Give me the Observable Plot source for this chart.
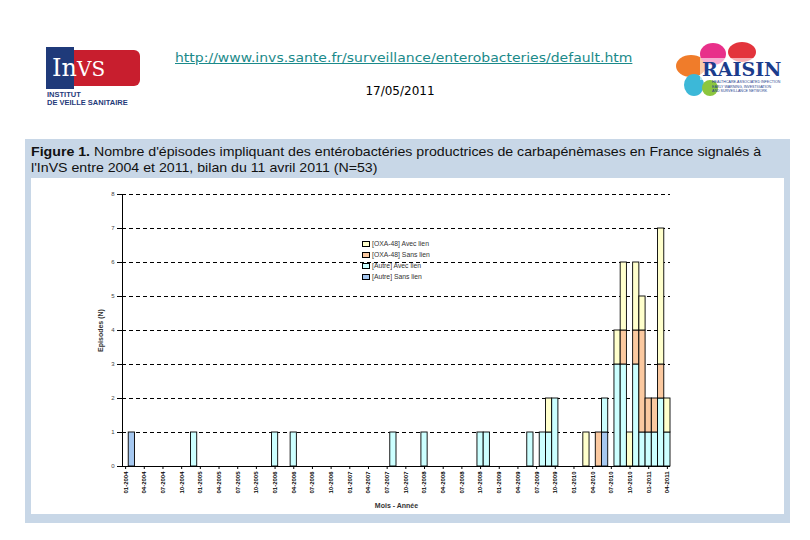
<!DOCTYPE html>
<html>
<head>
<meta charset="utf-8">
<script src="https://cdn.jsdelivr.net/npm/d3@7"></script>
<script src="https://cdn.jsdelivr.net/npm/@observablehq/plot@0.6"></script>
<style>
  html, body { margin:0; padding:0; background:#fff; }
  #page { position:relative; width:810px; height:540px; overflow:hidden; font-family:"Liberation Sans", Arial, sans-serif; }
  .abs { position:absolute; }
  #url { left:175px; top:51px; color:#1b8a8a; text-decoration:underline; font-family:"DejaVu Sans", sans-serif; font-size:12px; white-space:nowrap; transform-origin:left top; }
  #date { left:350px; top:84px; width:100px; text-align:center; font-family:"DejaVu Sans", sans-serif; font-size:12px; color:#000; }
  #box { left:25px; top:139px; width:765px; height:384px; background:#c8d7e7; }
  #inner { left:31px; top:178px; width:753px; height:336px; background:#fff; }
  #title { left:31px; top:144px; font-size:13px; line-height:15.5px; color:#111; white-space:nowrap; transform-origin:left top; }
  #chart { left:31px; top:178px; width:753px; }
  .lg { position:absolute; left:362px; font-size:6.8px; color:#333; white-space:nowrap; line-height:7px; }
  .lg span.sw { display:inline-block; width:6px; height:4.5px; border:0.8px solid #000; margin-right:2px; vertical-align:middle; }
</style>
</head>
<body>
<div id="page">
  <!-- InVS logo -->
  <div class="abs" style="left:46px;top:47px;width:28px;height:42px;background:#1f3a7a;"></div>
  <div class="abs" style="left:74px;top:50px;width:66px;height:36px;background:#c81e2e;border-radius:0 6px 6px 0;"></div>
  <div class="abs" style="left:52px;top:54px;font-family:'DejaVu Serif',serif;font-size:24px;color:#fff;">In<span style="font-size:20px">VS</span></div>
  <div class="abs" style="left:47px;top:91px;font-size:7.5px;font-weight:bold;color:#1f3a7a;line-height:8px;">INSTITUT<br>DE VEILLE SANITAIRE</div>

  <!-- RAISIN logo -->
  <div class="abs" style="left:676px;top:55px;width:30px;height:22px;background:#f07c2a;border-radius:50%;"></div>
  <div class="abs" style="left:700px;top:43px;width:26px;height:22px;background:#e8308a;border-radius:50%;"></div>
  <div class="abs" style="left:728px;top:42px;width:28px;height:20px;background:#e3343c;border-radius:50%;"></div>
  <div class="abs" style="left:684px;top:74px;width:20px;height:22px;background:#3cb8d8;border-radius:50%;"></div>
  <div class="abs" style="left:702px;top:80px;width:16px;height:16px;background:#8cc63e;border-radius:50%;"></div>
  <div class="abs" style="left:700px;top:58px;font-family:'DejaVu Serif',serif;font-size:19px;font-weight:bold;color:#1b3c8c;background:rgba(255,255,255,0.6);padding:0 2px;">RAISIN</div>
  <div class="abs" style="left:712px;top:80px;font-size:3.6px;line-height:4.6px;color:#1b3c8c;">HEALTHCARE-ASSOCIATED INFECTION<br>EARLY WARNING, INVESTIGATION<br>AND SURVEILLANCE NETWORK</div>

  <div id="url" class="abs">http://www.invs.sante.fr/surveillance/enterobacteries/default.htm</div>
  <div id="date" class="abs">17/05/2011</div>

  <div id="box" class="abs"></div>
  <div id="inner" class="abs"></div>
  <div id="title" class="abs"><b>Figure 1.</b> Nombre d'épisodes impliquant des entérobactéries productrices de carbapénèmases en France signalés à<br>l'InVS entre 2004 et 2011, bilan du 11 avril 2011 (N=53)</div>
  <div id="chart" class="abs"></div>
  <div id="legend"></div>
</div>
<script>
// ---- data ----
const months = ["02-2004","12-2004","01-2006","04-2006","08-2007","01-2008","10-2008","11-2008","06-2009","08-2009","09-2009","10-2009",
                "03-2010","05-2010","06-2010","08-2010","09-2010","10-2010","11-2010","12-2010","01-2011","02-2011","03-2011","04-2011"];
const autreSansLien = [1,0,0,0,0,0,0,0,0,0,0,0, 0,0,1,0,0,0,0,0,0,0,0,0];
const autreAvecLien = [0,1,1,1,1,1,1,1,1,1,1,2, 0,0,1,3,3,0,3,1,1,1,2,1];
const oxaSansLien   = [0,0,0,0,0,0,0,0,0,0,0,0, 0,1,0,0,1,0,1,3,1,1,1,0];
const oxaAvecLien   = [0,0,0,0,0,0,0,0,0,0,1,0, 1,0,0,1,2,1,2,1,0,0,4,1];
const seriesNames = ["[Autre] Sans lien","[Autre] Avec lien","[OXA-48] Sans lien","[OXA-48] Avec lien"];
const seriesColors = ["#a6c8f0","#ccffff","#fbc9a0","#ffffcc"];
const tickLabels = ["01-2004","04-2004","07-2004","10-2004","01-2005","04-2005","07-2005","10-2005",
                    "01-2006","04-2006","07-2006","10-2006","01-2007","04-2007","07-2007","10-2007",
                    "01-2008","04-2008","07-2008","10-2008","01-2009","04-2009","07-2009","10-2009",
                    "01-2010","04-2010","07-2010","10-2010","01-2011","04-2011"];
const yTicks = [0,1,2,3,4,5,6,7,8];

// all monthly categories from 01-2004 to 04-2011
const allMonths = d3.utcMonths(new Date(Date.UTC(2004,0,1)), new Date(Date.UTC(2011,4,1))).map(d3.utcFormat("%m-%Y"));

const seriesValues = [autreSansLien, autreAvecLien, oxaSansLien, oxaAvecLien];
const rows = [];
months.forEach((m, i) => {
  seriesValues.forEach((vals, s) => {
    if (vals[i] > 0) rows.push({month: m, series: seriesNames[s], value: vals[i]});
  });
});

const chart = Plot.plot({
  width: 753,
  height: 336,
  marginLeft: 91,
  marginRight: 114,
  marginTop: 16,
  marginBottom: 48,
  style: {background: "transparent", fontFamily: "Liberation Sans, Arial, sans-serif", color: "#000"},
  x: {type: "band", domain: allMonths, padding: 0, round: false},
  y: {domain: [0, 8]},
  color: {domain: seriesNames, range: seriesColors},
  marks: [
    Plot.ruleY(yTicks.slice(1), {stroke: "#000", strokeDasharray: "4,3", strokeWidth: 1}),
    Plot.barY(rows, {x: "month", y: "value", fill: "series", stroke: "#000", strokeWidth: 0.9}),
    Plot.ruleY([0], {stroke: "#000", strokeWidth: 1}),
    Plot.frame({anchor: "left", stroke: "#000", strokeWidth: 1}),
    Plot.axisY({ticks: yTicks, tickSize: 5, tickPadding: 3, fontSize: 6, fill: "#444",
      label: "Episodes (N)", labelAnchor: "center", labelOffset: 24, labelArrow: "none"}),
    Plot.axisX({ticks: tickLabels, tickRotate: -90, tickSize: 3, tickPadding: 2, fontSize: 6, fontWeight: "bold",
      label: "Mois - Année", labelAnchor: "center", labelOffset: 41, labelArrow: "none"})
  ]
});
document.getElementById("chart").appendChild(chart);
// style axis labels bold
chart.querySelectorAll("text").forEach(t => {
  if (t.textContent === "Episodes (N)" || t.textContent === "Mois - Année") {
    t.setAttribute("font-weight", "bold"); t.setAttribute("font-size", "7"); t.setAttribute("fill", "#333");
  }
});

// legend (Excel order: reversed)
const legend = document.getElementById("legend");
const legendTops = [240, 251, 262, 273];
[3,2,1,0].forEach((s, k) => {
  const d = document.createElement("div");
  d.className = "lg";
  d.style.top = legendTops[k] + "px";
  d.innerHTML = `<span class="sw" style="background:${seriesColors[s]}"></span>${seriesNames[s]}`;
  legend.appendChild(d);
});

// fit text widths
function fit(id, w) {
  const el = document.getElementById(id);
  el.style.transform = `scaleX(${w / el.offsetWidth})`;
}
fit("url", 457);
fit("title", 730);
</script>
</body>
</html>
